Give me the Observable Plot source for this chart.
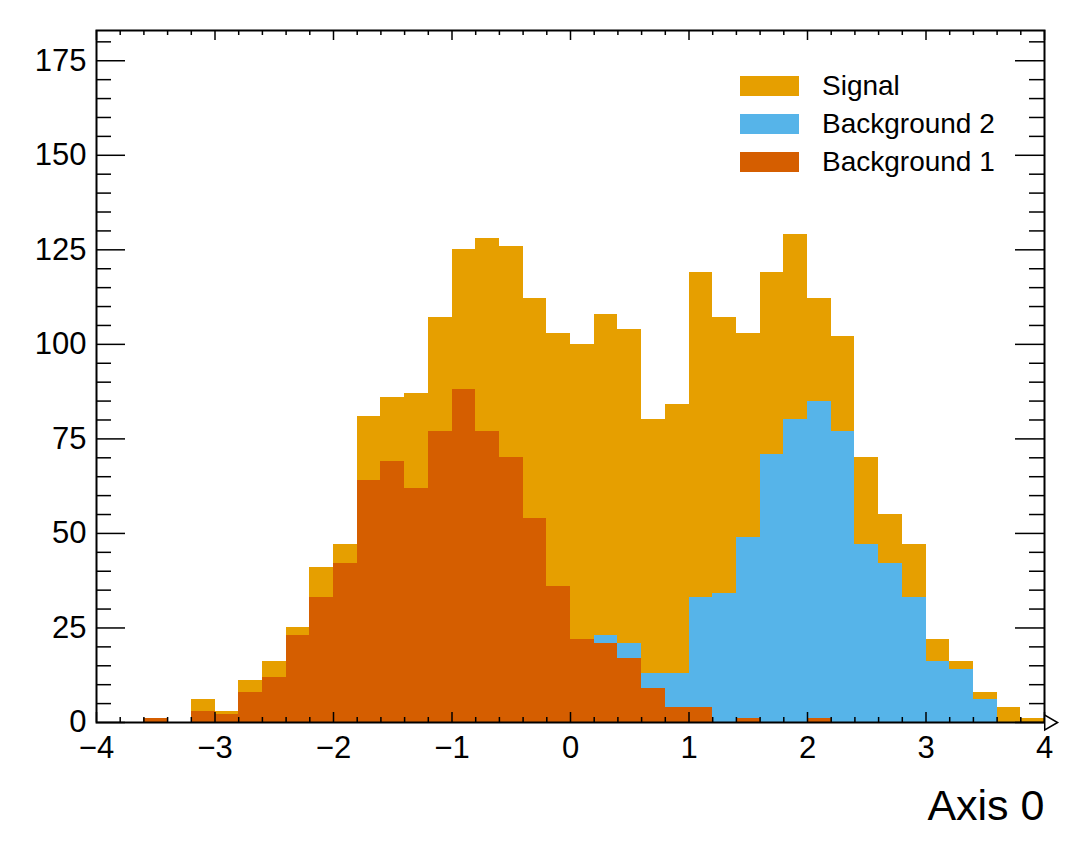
<!DOCTYPE html>
<html>
<head>
<meta charset="utf-8">
<script src="https://cdn.jsdelivr.net/npm/d3@7"></script>
<script src="https://cdn.jsdelivr.net/npm/@observablehq/plot@0.6"></script>
<style>
  html, body { margin: 0; padding: 0; background: white; }
  #wrap { position: relative; width: 1084px; height: 858px; font-family: "Liberation Sans", Arial, Helvetica, sans-serif; }
  #legend { position: absolute; left: 740px; top: 76px; }
  .row { position: relative; height: 38px; }
  .box { position: absolute; left: 0; top: 0; width: 59px; height: 20px; }
  .lab { position: absolute; left: 82px; top: 10px; transform: translateY(-50%); font-size: 28px; line-height: 1; white-space: nowrap; color: black; }
</style>
</head>
<body>
<div id="wrap"><div id="legend"></div></div>
<script>
// Bin edges (width 0.2 from -4 to 4)
const edges = [-4,-3.8,-3.6,-3.4,-3.2,-3,-2.8,-2.6,-2.4,-2.2,-2,-1.8,-1.6,-1.4,-1.2,-1,-0.8,-0.6,-0.4,-0.2,0,0.2,0.4,0.6,0.8,1,1.2,1.4,1.6,1.8,2,2.2,2.4,2.6,2.8,3,3.2,3.4,3.6,3.8,4];

// Counts per bin (stacked bottom to top: Background 1, Background 2, Signal)
const background1 = [0,0,1,0,3,2,8,12,23,33, 42,64,69,62,77,88,77,70,54,36, 22,21,17,9,4,4,0,1,0,0, 1,0,0,0,0,0,0,0,0,0];
const background2 = [0,0,0,0,0,0,0,0,0,0, 0,0,0,0,0,0,0,0,0,0, 0,2,4,4,9,29,34,48,71,80, 84,77,47,42,33,16,14,6,0,0];
const signal      = [0,0,0,0,3,1,3,4,2,8, 5,17,17,25,30,37,51,56,58,67, 78,85,83,67,71,86,73,54,48,49, 27,25,23,13,14,6,2,2,4,1];

const seriesNames = ["Background 1", "Background 2", "Signal"];
const seriesColors = ["#D55E00", "#56B4E9", "#E69F00"];
const legendOrder = ["Signal", "Background 2", "Background 1"];

const yTicks = [0, 25, 50, 75, 100, 125, 150, 175];
const xTicks = [-4, -3, -2, -1, 0, 1, 2, 3, 4];
const xLabel = "Axis 0";

// Build stacked rectangles
const seriesValues = [background1, background2, signal];
const rects = [];
for (let i = 0; i < edges.length - 1; i++) {
  let base = 0;
  seriesValues.forEach((vals, s) => {
    rects.push({x1: edges[i], x2: edges[i + 1], y1: base, y2: base + vals[i], series: seriesNames[s]});
    base += vals[i];
  });
}

const W = 1084, H = 858, mL = 96, mR = 40, mT = 30, mB = 136;
const pw = W - mL - mR, ph = H - mT - mB;

const yMinor = d3.range(0, 185, 5).filter(v => v % 25 !== 0);
const xMinor = d3.range(-40, 41, 2).map(v => v / 10).filter(v => !Number.isInteger(v));

const tick = {stroke: "black", strokeWidth: 1.5};

const chart = Plot.plot({
  width: W, height: H,
  marginLeft: mL, marginRight: mR, marginTop: mT, marginBottom: mB,
  style: {fontFamily: "'Liberation Sans', Arial, Helvetica, sans-serif", background: "white", color: "black", overflow: "visible"},
  x: {domain: [-4, 4]},
  y: {domain: [0, 183]},
  color: {domain: seriesNames, range: seriesColors},
  marks: [
    Plot.rect(rects, {x1: "x1", x2: "x2", y1: "y1", y2: "y2", fill: "series", shapeRendering: "crispEdges"}),
    // left ticks (inward)
    Plot.tickY(yTicks, {y: d => d, ...tick, insetRight: pw - 29}),
    Plot.tickY(yMinor, {y: d => d, ...tick, insetRight: pw - 15}),
    // right ticks (inward)
    Plot.tickY(yTicks, {y: d => d, ...tick, insetLeft: pw - 29}),
    Plot.tickY(yMinor, {y: d => d, ...tick, insetLeft: pw - 15}),
    // bottom ticks (inward)
    Plot.tickX(xTicks, {x: d => d, ...tick, insetTop: ph - 10}),
    Plot.tickX(xMinor, {x: d => d, ...tick, insetTop: ph - 5}),
    // top ticks (inward)
    Plot.tickX(xTicks, {x: d => d, ...tick, insetBottom: ph - 10}),
    Plot.tickX(xMinor, {x: d => d, ...tick, insetBottom: ph - 5}),
    Plot.axisY({ticks: yTicks, tickSize: 0, tickPadding: 10, fontSize: 31, label: null}),
    Plot.axisX({ticks: xTicks, tickSize: 0, tickPadding: 13, fontSize: 31, label: null}),
    Plot.frame({stroke: "black", strokeWidth: 2}),
    Plot.dot([{x: 4, y: 0}], {x: "x", y: "y", symbol: "triangle", rotate: 90, r: 5.5, dx: 4.5, fill: "white", stroke: "black", strokeWidth: 1.5}),
    Plot.text([xLabel], {text: d => d, frameAnchor: "bottom-right", textAnchor: "end", lineAnchor: "bottom", dy: 97, fontSize: 43, fill: "black"})
  ]
});

const wrap = document.getElementById("wrap");
wrap.insertBefore(chart, wrap.firstChild);

const legend = document.getElementById("legend");
legendOrder.forEach(name => {
  const row = document.createElement("div");
  row.className = "row";
  const box = document.createElement("div");
  box.className = "box";
  box.style.background = seriesColors[seriesNames.indexOf(name)];
  const lab = document.createElement("div");
  lab.className = "lab";
  lab.textContent = name;
  row.appendChild(box);
  row.appendChild(lab);
  legend.appendChild(row);
});
</script>
</body>
</html>
